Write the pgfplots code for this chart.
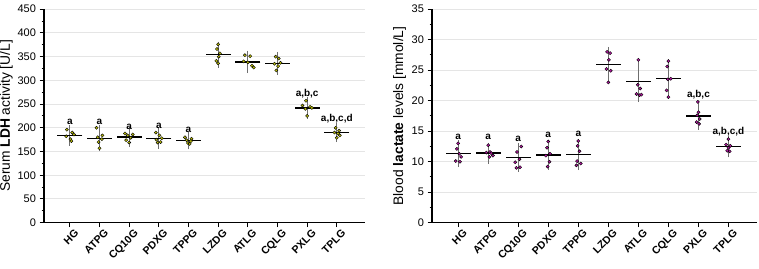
\documentclass[border=0pt]{standalone}
\usepackage{pgfplots}
\pgfplotsset{compat=1.18}
\usepackage{fontspec}
\setmainfont{Liberation Sans}
\setsansfont{Liberation Sans}

\definecolor{ldhdot}{RGB}{186,188,10}
\definecolor{lacdot}{RGB}{178,24,160}
\definecolor{sdgray}{RGB}{110,110,110}

% ---------- LDH activity [U/L]: individual animals ----------
\pgfplotstableread{
x y
-0.10 196
0.08 190
0.14 186
-0.12 182
0.02 176
0.05 172
0.90 200
1.10 184
0.94 180
1.08 176
0.97 170
1.00 157
1.86 188
2.12 186
1.95 184
2.05 179
1.90 174
2.00 169
2.90 190
3.02 184
3.10 178
2.92 175
3.06 170
2.96 169
3.88 180
4.10 177
3.94 174
4.08 172
3.98 168
4.04 166
5.00 376
4.96 366
5.06 357
5.02 350
4.94 341
5.00 336
5.90 353
6.08 351
5.86 340
6.00 338
6.14 331
6.20 327
6.94 350
7.04 346
7.10 337
6.90 335
7.02 330
6.96 321
7.96 257
7.84 247
8.10 244
8.16 242
7.94 240
8.00 225
8.96 200
9.08 194
8.92 190
9.04 188
9.10 184
9.00 179
}\ldhpts

% group means with standard deviations
\pgfplotstableread{
x m sd
0 184 9
1 178 14.5
2 181 8
3 178 9.5
4 173 6
5 354 15
6 339 11
7 336 11.5
8 242 10.5
9 190 7.5
}\ldhmean

% ---------- blood lactate [mmol/L]: individual animals ----------
\pgfplotstableread{
x y
0.00 13.0
-0.04 12.1
0.04 11.3
0.10 10.8
-0.08 10.1
0.06 10.0
1.00 12.7
1.06 11.6
0.94 11.5
1.10 11.4
1.16 11.0
1.04 10.8
2.10 12.5
1.96 11.6
2.04 10.4
1.90 9.9
2.06 9.1
1.94 9.0
3.00 13.3
2.96 12.3
3.06 11.3
2.92 11.0
3.04 10.0
2.98 9.2
4.00 13.4
3.98 12.6
4.04 11.7
3.96 10.1
4.08 9.7
3.94 9.4
4.96 28.0
5.06 27.8
5.02 26.7
4.94 25.2
5.08 24.9
5.00 23.0
6.00 26.7
5.98 22.6
6.06 22.0
5.94 21.1
6.04 20.9
6.10 21.0
7.00 26.5
6.96 25.6
7.08 23.6
6.98 23.5
6.94 21.7
7.00 20.6
7.98 19.8
8.00 18.1
7.96 17.6
8.04 17.0
7.94 16.5
8.02 16.2
9.00 13.7
8.92 12.8
9.06 12.6
9.00 12.3
8.96 11.8
9.04 11.7
}\lacpts

\pgfplotstableread{
x m sd
0 11.3 1.2
1 11.4 0.75
2 10.7 1.35
3 11.1 1.45
4 11.2 1.6
5 25.9 1.95
6 23.1 2.35
7 23.6 2.25
8 17.5 1.3
9 12.5 0.8
}\lacmean

\tikzset{lettr/.style={font=\bfseries\fontsize{10}{11}\selectfont, inner sep=0pt}}

\pgfplotsset{
  panel/.style={
    scale only axis,
    width=#1,
    height=213.5pt,
    anchor=south west,
    axis lines=left,
    axis line style={-, line width=1.2pt, black},
    xmin=-0.87, xmax=9.95,
    xtick={0,...,9},
    xticklabels={HG,ATPG,CQ10G,PDXG,TPPG,LZDG,ATLG,CQLG,PXLG,TPLG},
    xticklabel style={rotate=45, anchor=north east, font=\bfseries\fontsize{10.6}{12}\selectfont, inner sep=0pt, yshift=-4pt, xshift=2pt},
    yticklabel style={font=\fontsize{11}{13}\selectfont},
    /pgf/number format/assume math mode=true,
    tick align=outside,
    major tick length=4.5pt,
    minor tick length=2.5pt,
    tick style={line width=1pt, black},
    minor y tick num=1,
    ymajorgrids,
    major grid style={gray!20, line width=1pt},
    clip=false,
    ylabel style={font=\fontsize{13.8}{15}\selectfont},
  },
  meanplot/.style={
    only marks, mark=-, mark size=12.5pt,
    mark options={line width=1.4pt, black},
    error bars/.cd, y dir=both, y explicit,
    error bar style={line width=1.1pt, sdgray},
    error mark options={line width=1.1pt, sdgray, mark size=6pt},
  },
  dots/.style={only marks, mark=*, mark size=1.6pt, mark options={draw=none, fill=#1}},
}

\begin{document}
\begin{tikzpicture}
\useasboundingbox (0pt,0pt) rectangle (759pt,268pt);

% left panel: serum LDH
\begin{axis}[panel=321pt, at={(44pt,45.3pt)},
  ymin=0, ymax=450, ytick={0,50,...,450},
  ylabel={Serum \textbf{LDH} activity [U/L]},
  ylabel style={at={(ticklabel cs:0.5)}, yshift=-2pt}]
\addplot[meanplot] table[x=x, y=m, y error=sd] {\ldhmean};
\addplot[dots=ldhdot] table[x=x, y=y] {\ldhpts};
\node[lettr] at (axis cs:0,213) {a};
\node[lettr] at (axis cs:1,213) {a};
\node[lettr] at (axis cs:2,201) {a};
\node[lettr] at (axis cs:3,204) {a};
\node[lettr] at (axis cs:4,196) {a};
\node[lettr] at (axis cs:8,273) {a,b,c};
\node[lettr] at (axis cs:9,219) {a,b,c,d};
\end{axis}

% right panel: blood lactate
\begin{axis}[panel=325pt, at={(432pt,45.3pt)},
  ymin=0, ymax=35, ytick={0,5,...,35},
  ylabel={Blood \textbf{lactate} levels [mmol/L]},
  ylabel style={at={(ticklabel cs:0.5)}, yshift=-1pt}]
\addplot[meanplot] table[x=x, y=m, y error=sd] {\lacmean};
\addplot[dots=lacdot] table[x=x, y=y] {\lacpts};
\node[lettr] at (axis cs:0,14.15) {a};
\node[lettr] at (axis cs:1,14.15) {a};
\node[lettr] at (axis cs:2,13.8) {a};
\node[lettr] at (axis cs:3,14.4) {a};
\node[lettr] at (axis cs:4,14.6) {a};
\node[lettr] at (axis cs:8,20.96) {a,b,c};
\node[lettr] at (axis cs:9,14.86) {a,b,c,d};
\end{axis}
\end{tikzpicture}
\end{document}
